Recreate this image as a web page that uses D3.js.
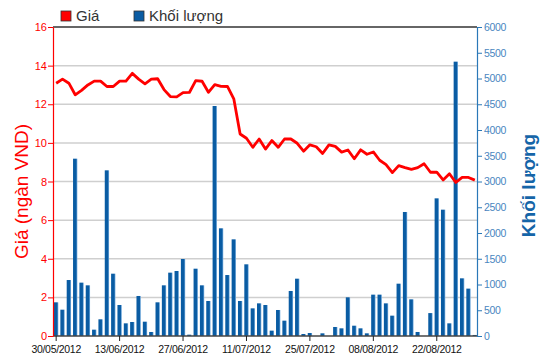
<!DOCTYPE html>
<html>
<head>
<meta charset="utf-8">
<script src="https://cdn.jsdelivr.net/npm/d3@7"></script>
<style>
    body { margin: 0; background: #fff; }
    svg { display: block; font-family: "Liberation Sans", Arial, sans-serif; }
</style>
</head>
<body>
<svg id="chart"></svg>
<script>
const dates = [
    "30/05/2012", "31/05/2012",
    "01/06/2012", "04/06/2012", "05/06/2012", "06/06/2012", "07/06/2012", "08/06/2012",
    "11/06/2012", "12/06/2012", "13/06/2012", "14/06/2012", "15/06/2012",
    "18/06/2012", "19/06/2012", "20/06/2012", "21/06/2012", "22/06/2012",
    "25/06/2012", "26/06/2012", "27/06/2012", "28/06/2012", "29/06/2012",
    "02/07/2012", "03/07/2012", "04/07/2012", "05/07/2012", "06/07/2012",
    "09/07/2012", "10/07/2012", "11/07/2012", "12/07/2012", "13/07/2012",
    "16/07/2012", "17/07/2012", "18/07/2012", "19/07/2012", "20/07/2012",
    "23/07/2012", "24/07/2012", "25/07/2012", "26/07/2012", "27/07/2012",
    "30/07/2012", "31/07/2012", "01/08/2012", "02/08/2012", "03/08/2012",
    "06/08/2012", "07/08/2012", "08/08/2012", "09/08/2012", "10/08/2012",
    "13/08/2012", "14/08/2012", "15/08/2012", "16/08/2012", "17/08/2012",
    "20/08/2012", "21/08/2012", "22/08/2012", "23/08/2012", "24/08/2012",
    "27/08/2012", "28/08/2012", "29/08/2012", "30/08/2012"
];

const prices = [
    13.09, 13.3, 13.09, 12.49, 12.72, 13.0, 13.2, 13.2, 12.92, 12.92,
    13.2, 13.2, 13.6, 13.3, 13.06, 13.3, 13.32, 12.76, 12.4, 12.38,
    12.6, 12.61, 13.22, 13.19, 12.62, 13.02, 12.93, 12.92, 12.28, 10.46,
    10.24, 9.77, 10.2, 9.68, 10.12, 9.77, 10.2, 10.2, 9.98, 9.57,
    9.9, 9.8, 9.45, 9.9, 9.82, 9.52, 9.63, 9.18, 9.64, 9.41,
    9.53, 9.1, 8.87, 8.46, 8.82, 8.72, 8.63, 8.72, 8.92, 8.48,
    8.48, 8.08, 8.4, 7.95, 8.21, 8.21, 8.07
];

const volumes = [
    654, 511, 1087, 3443, 1036, 984, 123, 324, 3217, 1210,
    602, 246, 272, 777, 278, 78, 654, 984, 1230, 1262,
    1495, 26, 1307, 984, 680, 4466, 2091, 1184, 1877, 680,
    1392, 537, 634, 602, 104, 505, 298, 874, 1113, 39,
    58, 0, 52, 0, 175, 149, 751, 200, 149, 52,
    803, 803, 634, 395, 1016, 2408, 712, 78, 0, 445,
    2673, 2453, 246, 5327, 1120, 920, 20
];

const priceTicks = [0, 2, 4, 6, 8, 10, 12, 14, 16];
const volumeTicks = [0, 500, 1000, 1500, 2000, 2500, 3000, 3500, 4000, 4500, 5000, 5500, 6000];
const dateTicks = ["30/05/2012", "13/06/2012", "27/06/2012", "11/07/2012", "25/07/2012", "08/08/2012", "22/08/2012"];

const width = 550, height = 364;
const plotLeft = 53, plotRight = 477, plotTop = 27, plotBottom = 336;
const red = "#ff0000", axisBlue = "#2a78b8";

const svg = d3.select("#chart").attr("width", width).attr("height", height);

const x = d3.scaleBand().domain(dates).range([plotLeft, plotRight + 1])
    .paddingInner(0.32).paddingOuter(0.16);
const yPrice = d3.scaleLinear().domain([0, 16]).range([plotBottom, plotTop]);
const yVol = d3.scaleLinear().domain([0, 6000]).range([plotBottom, plotTop]);

// bar shading: dark blue with a light right edge
const grad = svg.append("defs").append("linearGradient").attr("id", "barGrad");
grad.append("stop").attr("offset", "0%").attr("stop-color", "#0a5ca3");
grad.append("stop").attr("offset", "70%").attr("stop-color", "#0a5ca3");
grad.append("stop").attr("offset", "100%").attr("stop-color", "#7eb3e3");

// gridlines
svg.append("g")
    .selectAll("line")
    .data(priceTicks.slice(1, -1))
    .enter()
    .append("line")
    .attr("x1", plotLeft).attr("x2", plotRight)
    .attr("y1", d => yPrice(d)).attr("y2", d => yPrice(d))
    .attr("stroke", "#cfcfcf").attr("stroke-width", 1.5);

// volume bars
svg.append("g")
    .selectAll("rect")
    .data(volumes)
    .enter()
    .append("rect")
    .attr("x", (d, i) => x(dates[i]))
    .attr("width", x.bandwidth())
    .attr("y", d => yVol(d))
    .attr("height", d => plotBottom - yVol(d))
    .attr("fill", "url(#barGrad)");

// price line
const line = d3.line()
    .x((d, i) => x(dates[i]) + x.bandwidth() / 2)
    .y(d => yPrice(d));
svg.append("path")
    .datum(prices)
    .attr("d", line)
    .attr("fill", "none")
    .attr("stroke", red)
    .attr("stroke-width", 2.8)
    .attr("stroke-linejoin", "round");

// top border
svg.append("line")
    .attr("x1", plotLeft).attr("x2", plotRight)
    .attr("y1", plotTop).attr("y2", plotTop)
    .attr("stroke", "#333").attr("stroke-width", 1.5);

// x axis
const xAxis = svg.append("g")
    .attr("transform", `translate(0, ${plotBottom})`)
    .call(d3.axisBottom(x).tickValues(dateTicks).tickSize(5).tickSizeOuter(0));
xAxis.select(".domain").attr("stroke", "#444").attr("stroke-width", 1.5)
    .attr("d", `M${plotLeft},0H${plotRight}`);
xAxis.selectAll(".tick line").attr("stroke", "#222");
xAxis.selectAll("text").attr("fill", "#111").attr("font-size", 10.5)
    .attr("letter-spacing", -0.3).attr("dy", "0.9em");

// left price axis
const yl = svg.append("g")
    .attr("transform", `translate(${plotLeft}, 0)`)
    .call(d3.axisLeft(yPrice).tickValues(priceTicks).tickSize(5).tickSizeOuter(0));
yl.select(".domain").attr("stroke", red).attr("stroke-width", 1.2);
yl.selectAll(".tick line").attr("stroke", red);
yl.selectAll("text").attr("fill", red).attr("font-size", 11).attr("x", -6);

// right volume axis
const yr = svg.append("g")
    .attr("transform", `translate(${plotRight}, 0)`)
    .call(d3.axisRight(yVol).tickValues(volumeTicks).tickFormat(d3.format("d"))
        .tickSize(5).tickSizeOuter(0));
yr.select(".domain").attr("stroke", axisBlue).attr("stroke-width", 1.2);
yr.selectAll(".tick line").attr("stroke", axisBlue);
yr.selectAll("text").attr("fill", "#4a86c0").attr("font-size", 10.5)
    .attr("x", 7).attr("letter-spacing", -0.3);

// axis titles
svg.append("text")
    .attr("transform", `translate(28, ${(plotTop + plotBottom) / 2 + 10}) rotate(-90)`)
    .attr("text-anchor", "middle")
    .attr("fill", red)
    .attr("font-size", 19)
    .text("Giá (ngàn VND)");
svg.append("text")
    .attr("transform", `translate(535, ${(plotTop + plotBottom) / 2 + 4}) rotate(-90)`)
    .attr("text-anchor", "middle")
    .attr("fill", "#1565a8")
    .attr("font-size", 19)
    .attr("font-weight", "bold")
    .text("Khối lượng");

// legend
const legend = [["Giá", red, 61], ["Khối lượng", "#0a5ca3", 134]];
const lg = svg.append("g").selectAll("g").data(legend).enter().append("g")
    .attr("transform", d => `translate(${d[2]}, 11)`);
lg.append("rect").attr("width", 10).attr("height", 10)
    .attr("fill", d => d[1]).attr("stroke", "#333").attr("stroke-width", 0.8);
lg.append("text").attr("x", 15).attr("y", 10)
    .attr("font-size", 15).attr("fill", "#333")
    .text(d => d[0]);
</script>
</body>
</html>
